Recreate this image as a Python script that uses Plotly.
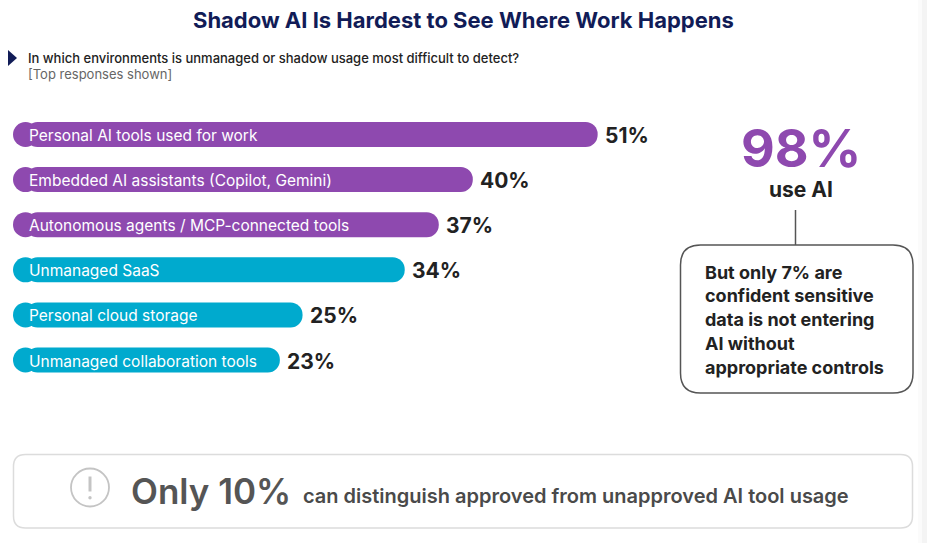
import plotly.graph_objects as go

# ---------------- data ----------------
categories = [
    "Personal AI tools used for work",
    "Embedded AI assistants (Copilot, Gemini)",
    "Autonomous agents / MCP-connected tools",
    "Unmanaged SaaS",
    "Personal cloud storage",
    "Unmanaged collaboration tools",
]
values = [51, 40, 37, 34, 25, 23]
groups = ["AI", "AI", "AI", "SaaS", "SaaS", "SaaS"]

title_text = "Shadow AI Is Hardest to See Where Work Happens"
question_text = "In which environments is unmanaged or shadow usage most difficult to detect?"
note_text = "[Top responses shown]"
big_stat = "98%"
big_stat_label = "use AI"
callout_lines = [
    "But only 7% are",
    "confident sensitive",
    "data is not entering",
    "AI without",
    "appropriate controls",
]
bottom_stat = "Only 10%"
bottom_text = "can distinguish approved from unapproved AI tool usage"

# ---------------- style ----------------
W, H = 927, 543
FONT = "Inter"
PURPLE = "#8E49AF"
CYAN = "#00AACE"
NAVY = "#111C57"
DARK = "#222222"
group_colors = {"AI": PURPLE, "SaaS": CYAN}
colors = [group_colors[g] for g in groups]

PX_PER_UNIT = 11.35
X0_PX = 18.8
Y0_PX = 134.5
ROW_PX = 45.1
BAR_PX = 25
CAP_X = (13 + BAR_PX / 2 - X0_PX) / PX_PER_UNIT   # centre of the rounded left cap
LABEL_X = 0.75     # inside label start (in % units)


def px(x):
    return x / W


def py(y):
    return 1 - y / H


def rounded_rect(x0, y0, x1, y1, r):
    pts = [
        ("M", [(x0 + r, y0)]),
        ("L", [(x1 - r, y0)]),
        ("Q", [(x1, y0), (x1, y0 + r)]),
        ("L", [(x1, y1 - r)]),
        ("Q", [(x1, y1), (x1 - r, y1)]),
        ("L", [(x0 + r, y1)]),
        ("Q", [(x0, y1), (x0, y1 - r)]),
        ("L", [(x0, y0 + r)]),
        ("Q", [(x0, y0), (x0 + r, y0)]),
    ]
    s = ""
    for cmd, ps in pts:
        s += cmd + " " + " ".join(f"{px(a):.5f},{py(b):.5f}" for a, b in ps) + " "
    return s + "Z"


fig = go.Figure()
fig.add_trace(go.Bar(
    y=categories, x=[v - CAP_X for v in values], base=CAP_X, orientation="h",
    marker=dict(color=colors, cornerradius=BAR_PX / 2, line=dict(width=0)),
    width=BAR_PX / ROW_PX, hoverinfo="skip", showlegend=False,
))
fig.add_trace(go.Scatter(
    y=categories, x=[CAP_X] * len(categories), mode="markers",
    marker=dict(color=colors, size=BAR_PX, line=dict(width=0)),
    hoverinfo="skip", showlegend=False,
))

annotations = []
for cat, v in zip(categories, values):
    annotations.append(dict(
        x=LABEL_X, y=cat, xref="x", yref="y", text=cat, showarrow=False,
        xanchor="left", yanchor="middle", yshift=-1,
        font=dict(family=FONT, size=15.5, color="white", weight=400),
    ))
    annotations.append(dict(
        x=v, y=cat, xref="x", yref="y", text=f"{v}%", showarrow=False,
        xanchor="left", yanchor="middle", xshift=5, yshift=-1,
        font=dict(family=FONT, size=21, color=DARK, weight=700),
    ))

annotations += [
    dict(x=px(463), y=py(20), xref="paper", yref="paper", text=title_text,
         showarrow=False, xanchor="center", yanchor="middle",
         font=dict(family=FONT, size=22, color=NAVY, weight=700)),
    dict(x=px(26), y=py(58), xref="paper", yref="paper", text=question_text,
         showarrow=False, xanchor="left", yanchor="middle",
         font=dict(family=FONT, size=13, color=DARK, weight=500)),
    dict(x=px(26), y=py(74), xref="paper", yref="paper", text=note_text,
         showarrow=False, xanchor="left", yanchor="middle",
         font=dict(family=FONT, size=13, color="#666666")),
    dict(x=px(801), y=py(148), xref="paper", yref="paper", text=big_stat,
         showarrow=False, xanchor="center", yanchor="middle", height=54,
         font=dict(family=FONT, size=52, color=PURPLE, weight=700)),
    dict(x=px(801), y=py(189), xref="paper", yref="paper", text=big_stat_label,
         showarrow=False, xanchor="center", yanchor="middle",
         font=dict(family=FONT, size=21, color=DARK, weight=700)),
    dict(x=px(129), y=py(491), xref="paper", yref="paper", text=bottom_stat,
         showarrow=False, xanchor="left", yanchor="middle",
         font=dict(family=FONT, size=35, color="#555555", weight=600)),
    dict(x=px(301), y=py(496), xref="paper", yref="paper", text=bottom_text,
         showarrow=False, xanchor="left", yanchor="middle",
         font=dict(family=FONT, size=20, color="#4a4a4a", weight=600)),
]
for i, line in enumerate(callout_lines):
    annotations.append(dict(
        x=px(703), y=py(272 + 23.75 * i), xref="paper", yref="paper", text=line,
        showarrow=False, xanchor="left", yanchor="middle",
        font=dict(family=FONT, size=18, color=DARK, weight=700)))

shapes = [
    dict(type="path", xref="paper", yref="paper",
         path=f"M {px(8)},{py(50)} L {px(17)},{py(58)} L {px(8)},{py(66)} Z",
         fillcolor=NAVY, line=dict(width=0)),
    dict(type="line", xref="paper", yref="paper", x0=px(795.5), x1=px(795.5),
         y0=py(210), y1=py(245), line=dict(color="#555555", width=1.5)),
    dict(type="path", xref="paper", yref="paper",
         path=rounded_rect(680.5, 245, 913, 393, 20),
         line=dict(color="#555555", width=1.5), fillcolor="rgba(0,0,0,0)"),
    dict(type="path", xref="paper", yref="paper",
         path=rounded_rect(13.5, 454.5, 912.5, 528, 12),
         line=dict(color="#dcdcdc", width=1.5), fillcolor="white"),
    dict(type="circle", xref="paper", yref="paper",
         x0=px(71), x1=px(109), y0=py(468.5), y1=py(506.5),
         line=dict(color="#c4c4c4", width=1.8)),
    dict(type="line", xref="paper", yref="paper", x0=px(90), x1=px(90),
         y0=py(476.5), y1=py(491.5), line=dict(color="#c4c4c4", width=3)),
    dict(type="circle", xref="paper", yref="paper",
         x0=px(88.3), x1=px(91.7), y0=py(496), y1=py(499.4),
         fillcolor="#c4c4c4", line=dict(width=0)),
    dict(type="rect", xref="paper", yref="paper", x0=px(918), x1=px(922), y0=0, y1=1,
         fillcolor="#fbfbfb", line=dict(width=0), layer="below"),
    dict(type="rect", xref="paper", yref="paper", x0=px(922), x1=1, y0=0, y1=1,
         fillcolor="#f4f4f4", line=dict(width=0), layer="below"),
]

fig.update_layout(
    width=W, height=H,
    margin=dict(l=0, r=0, t=0, b=0),
    paper_bgcolor="white", plot_bgcolor="rgba(0,0,0,0)",
    barmode="overlay",
    xaxis=dict(range=[-X0_PX / PX_PER_UNIT, (W - X0_PX) / PX_PER_UNIT],
               visible=False, fixedrange=True),
    yaxis=dict(type="category", categoryorder="array", categoryarray=categories,
               range=[(H - Y0_PX) / ROW_PX, -Y0_PX / ROW_PX],
               visible=False, fixedrange=True),
    annotations=annotations,
    shapes=shapes,
    showlegend=False,
)

fig.write_html(
    "out.html",
    config={"displayModeBar": False},
    post_script="document.body.style.margin='0';document.body.style.overflow='hidden';",
)
